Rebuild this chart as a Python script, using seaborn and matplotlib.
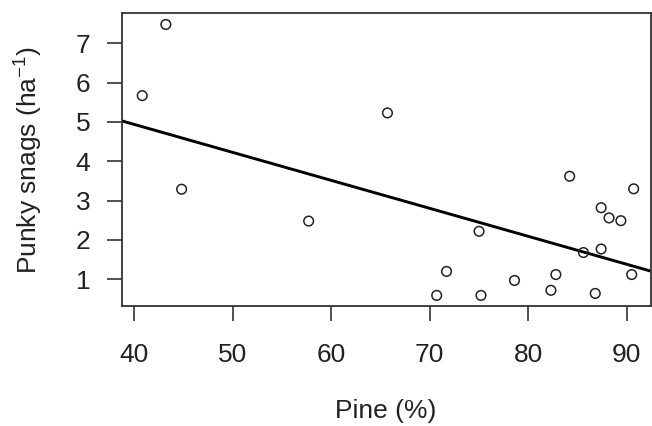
import matplotlib
matplotlib.use("Agg")
import matplotlib.pyplot as plt
import seaborn as sns
import pandas as pd

# Data
pine_pct = [43.2, 40.8, 44.8, 57.7, 65.7, 84.2, 90.7, 87.4, 88.2, 89.4,
            75.0, 87.4, 85.6, 71.7, 82.8, 90.5, 78.6, 82.3, 70.7, 75.2, 86.8]
punky_snags = [7.48, 5.67, 3.29, 2.48, 5.23, 3.62, 3.30, 2.82, 2.56, 2.49,
               2.22, 1.77, 1.68, 1.20, 1.12, 1.12, 0.97, 0.72, 0.59, 0.59, 0.64]

fit_x = [38.7, 92.4]
fit_y = [5.03, 1.21]

x_ticks = [40, 50, 60, 70, 80, 90]
y_ticks = [1, 2, 3, 4, 5, 6, 7]

sns.set_theme(style="white")
plt.rcParams["font.family"] = ["Liberation Sans", "DejaVu Sans"]
plt.rcParams["mathtext.default"] = "regular"

df = pd.DataFrame({"pine": pine_pct, "snags": punky_snags})
fit = pd.DataFrame({"x": fit_x, "y": fit_y})

fig = plt.figure(figsize=(6.52, 4.26), dpi=100)
ax = fig.add_axes([0.1867, 0.281, 0.9977 - 0.1867, 0.9688 - 0.281])

sns.lineplot(data=fit, x="x", y="y", ax=ax, color="black", linewidth=2.1, zorder=2)
sns.scatterplot(data=df, x="pine", y="snags", ax=ax, s=48, facecolor="none",
                edgecolor="#222222", linewidth=1.1, marker="o", zorder=3)

ax.set_xlim(38.72, 92.41)
ax.set_ylim(0.313, 7.764)
ax.set_xticks(x_ticks)
ax.set_yticks(y_ticks)
ax.set_xticklabels([str(t) for t in x_ticks])
ax.set_yticklabels([str(t) for t in y_ticks])

for s in ax.spines.values():
    s.set_color("#333333")
    s.set_linewidth(1.3)
    s.set_visible(True)

ax.tick_params(axis="both", which="major", direction="out", length=10.5, width=1.2,
               color="#333333", labelsize=19, labelcolor="#222222",
               bottom=True, left=True)
ax.tick_params(axis="x", pad=16)
ax.tick_params(axis="y", pad=12)

ax.set_xlabel("Pine (%)", fontsize=19, color="#222222")
ax.set_ylabel("Punky snags (ha$^{-1}$)", fontsize=19, color="#222222")
ax.xaxis.set_label_coords(0.5, -0.315)
ax.yaxis.set_label_coords(-0.145, 0.5)

fig.savefig("out.png", dpi=100)
